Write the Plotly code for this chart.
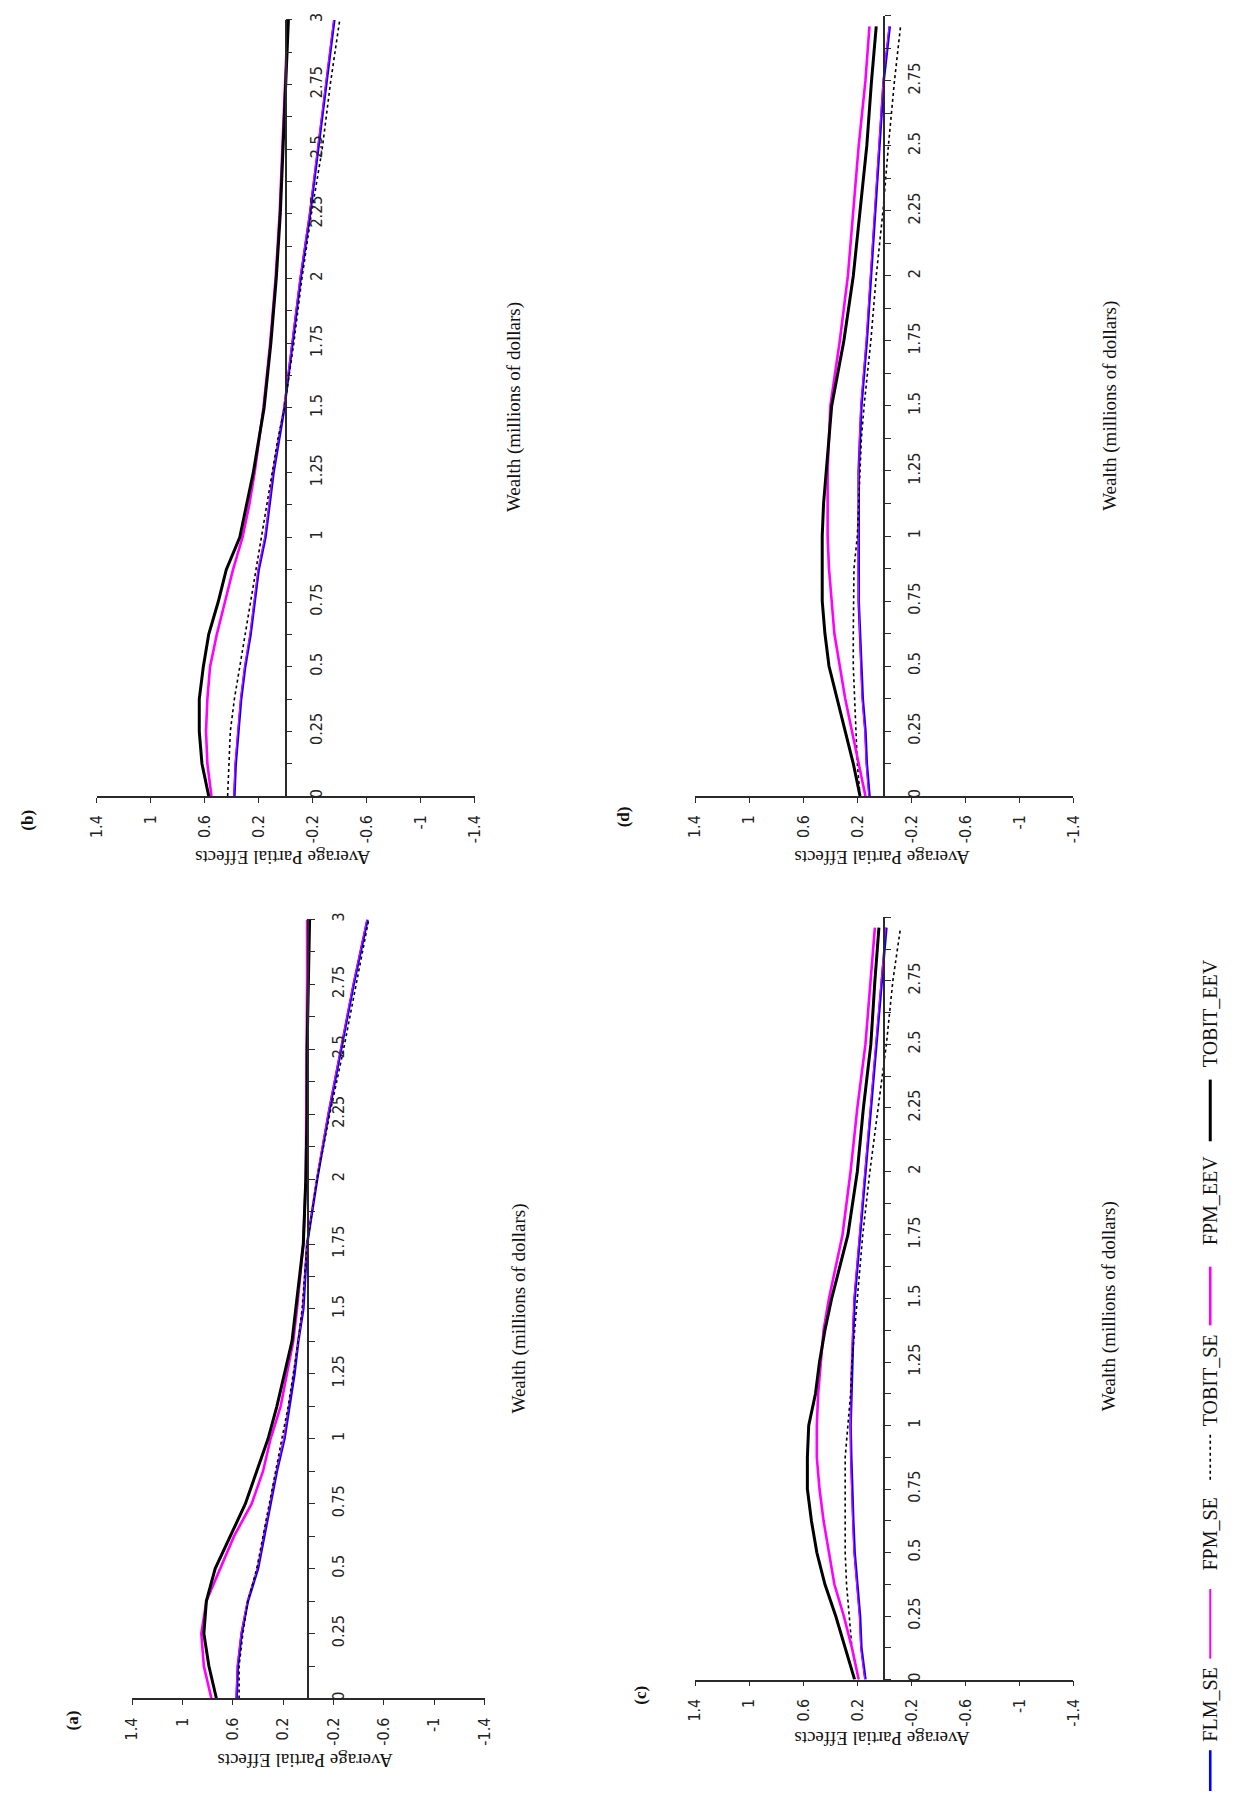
import plotly.graph_objects as go

# ---------------- data ----------------
WEALTH_AB = [0, 0.125, 0.25, 0.375, 0.5, 0.625, 0.75, 0.875, 1.0, 1.125, 1.25, 1.375, 1.5,
             1.75, 2.0, 2.25, 2.5, 2.75, 3.0]
WEALTH_CD = [0, 0.125, 0.25, 0.375, 0.5, 0.625, 0.75, 0.875, 1.0, 1.125, 1.25, 1.375, 1.5,
             1.75, 2.0, 2.25, 2.5, 2.75, 2.96]

SERIES = ["FLM_SE", "FPM_SE", "TOBIT_SE", "FPM_EEV", "TOBIT_EEV"]

# panel (a)
a_FLM_SE = [0.57, 0.56, 0.53, 0.48, 0.40, 0.35, 0.30, 0.25, 0.19, 0.15, 0.11, 0.08, 0.04,
            0.01, -0.07, -0.16, -0.26, -0.36, -0.47]
a_FPM_SE = [0.575, 0.565, 0.535, 0.485, 0.405, 0.355, 0.305, 0.255, 0.195, 0.155, 0.115, 0.08, 0.045,
            0.012, -0.065, -0.155, -0.255, -0.355, -0.465]
a_TOBIT_SE = [0.55, 0.55, 0.52, 0.48, 0.41, 0.36, 0.31, 0.26, 0.21, 0.16, 0.12, 0.08, 0.05,
              0.01, -0.07, -0.17, -0.28, -0.38, -0.48]
a_FPM_EEV = [0.77, 0.83, 0.85, 0.81, 0.70, 0.59, 0.45, 0.36, 0.30, 0.22, 0.17, 0.12, 0.09,
             0.04, 0.02, 0.015, 0.01, 0.01, 0.01]
a_TOBIT_EEV = [0.73, 0.79, 0.83, 0.81, 0.74, 0.62, 0.50, 0.41, 0.32, 0.25, 0.19, 0.13, 0.10,
               0.04, 0.02, 0.01, 0.01, 0.0, -0.01]

# panel (b)
b_FLM_SE = [0.38, 0.37, 0.35, 0.33, 0.30, 0.26, 0.23, 0.20, 0.15, 0.12, 0.09, 0.05, 0.01,
            -0.05, -0.11, -0.18, -0.24, -0.30, -0.36]
b_FPM_SE = [0.385, 0.375, 0.355, 0.335, 0.305, 0.265, 0.235, 0.205, 0.155, 0.125, 0.095, 0.055, 0.015,
            -0.045, -0.105, -0.175, -0.235, -0.295, -0.355]
b_TOBIT_SE = [0.43, 0.42, 0.41, 0.38, 0.34, 0.30, 0.26, 0.22, 0.18, 0.14, 0.10, 0.06, 0.01,
              -0.06, -0.12, -0.19, -0.27, -0.33, -0.40]
b_FPM_EEV = [0.55, 0.58, 0.59, 0.58, 0.56, 0.51, 0.45, 0.39, 0.32, 0.27, 0.23, 0.20, 0.165,
             0.115, 0.075, 0.045, 0.025, 0.005, -0.015]
b_TOBIT_EEV = [0.57, 0.62, 0.64, 0.64, 0.61, 0.57, 0.50, 0.44, 0.34, 0.29, 0.24, 0.20, 0.16,
               0.11, 0.07, 0.04, 0.02, 0.0, -0.02]

# panel (c)
c_FLM_SE = [0.14, 0.17, 0.18, 0.20, 0.22, 0.23, 0.24, 0.245, 0.25, 0.245, 0.24, 0.23, 0.22,
            0.18, 0.14, 0.10, 0.06, 0.02, -0.015]
c_FPM_SE = [0.145, 0.175, 0.185, 0.205, 0.225, 0.235, 0.245, 0.25, 0.25, 0.25, 0.245, 0.235, 0.225,
            0.185, 0.145, 0.105, 0.065, 0.025, -0.01]
c_TOBIT_SE = [0.19, 0.24, 0.26, 0.28, 0.29, 0.29, 0.29, 0.29, 0.27, 0.25, 0.24, 0.22, 0.20,
              0.16, 0.107, 0.046, -0.015, -0.063, -0.12]
c_FPM_EEV = [0.19, 0.24, 0.30, 0.37, 0.41, 0.45, 0.48, 0.50, 0.50, 0.49, 0.47, 0.45, 0.41,
             0.31, 0.25, 0.20, 0.14, 0.10, 0.07]
c_TOBIT_EEV = [0.22, 0.29, 0.36, 0.44, 0.50, 0.54, 0.57, 0.57, 0.56, 0.51, 0.48, 0.44, 0.39,
               0.27, 0.20, 0.155, 0.10, 0.07, 0.04]

# panel (d)
d_FLM_SE = [0.11, 0.13, 0.14, 0.16, 0.17, 0.18, 0.19, 0.19, 0.19, 0.19, 0.19, 0.18, 0.17,
            0.13, 0.10, 0.07, 0.04, 0.005, -0.04]
d_FPM_SE = [0.115, 0.135, 0.145, 0.165, 0.175, 0.185, 0.19, 0.195, 0.195, 0.195, 0.19, 0.185, 0.175,
            0.135, 0.105, 0.075, 0.045, 0.01, -0.035]
d_TOBIT_SE = [0.18, 0.20, 0.21, 0.22, 0.23, 0.23, 0.23, 0.225, 0.20, 0.19, 0.185, 0.17, 0.15,
              0.10, 0.06, 0.01, -0.03, -0.075, -0.12]
d_FPM_EEV = [0.14, 0.19, 0.24, 0.29, 0.33, 0.37, 0.39, 0.41, 0.42, 0.42, 0.42, 0.41, 0.40,
             0.33, 0.27, 0.23, 0.19, 0.14, 0.11]
d_TOBIT_EEV = [0.18, 0.23, 0.29, 0.35, 0.41, 0.44, 0.46, 0.46, 0.46, 0.45, 0.43, 0.41, 0.39,
               0.30, 0.23, 0.18, 0.13, 0.095, 0.06]

APE_TICKS = [1.4, 1.0, 0.6, 0.2, -0.2, -0.6, -1.0, -1.4]
APE_TICKTEXT = ["1.4", "1", "0.6", "0.2", "-0.2", "-0.6", "-1", "-1.4"]
WEALTH_TICKS = [0, 0.25, 0.5, 0.75, 1.0, 1.25, 1.5, 1.75, 2.0, 2.25, 2.5, 2.75, 3.0]
WEALTH_TICKTEXT = ["0", "0.25", "0.5", "0.75", "1", "1.25", "1.5", "1.75", "2", "2.25", "2.5", "2.75", "3"]
WEALTH_MINOR = [0.125, 0.375, 0.625, 0.875, 1.125, 1.375, 1.625, 1.875, 2.125, 2.375, 2.625, 2.875, 3.0]

PANEL_LABELS = ["(a)", "(b)", "(c)", "(d)"]
X_TITLE = "Average Partial Effects"
Y_TITLE = "Wealth (millions of dollars)"

# ---------------- layout helpers ----------------
FW, FH = 1235, 1796


def px(x):
    return x / FW


def py(y):
    return 1 - y / FH


STYLES = {
    "FLM_SE": dict(color="#0000FF", width=2.6),
    "FPM_SE": dict(color="#FF00FF", width=1.0),
    "TOBIT_SE": dict(color="#000000", width=1.6, dash="dot"),
    "FPM_EEV": dict(color="#FF00FF", width=2.6),
    "TOBIT_EEV": dict(color="#000000", width=3.0),
}

panels = [
    ("a", "", WEALTH_AB, [a_FLM_SE, a_FPM_SE, a_TOBIT_SE, a_FPM_EEV, a_TOBIT_EEV],
     (124, 482), (917, 1700), True),
    ("b", "2", WEALTH_AB, [b_FLM_SE, b_FPM_SE, b_TOBIT_SE, b_FPM_EEV, b_TOBIT_EEV],
     (88, 472), (13, 793), True),
    ("c", "3", WEALTH_CD, [c_FLM_SE, c_FPM_SE, c_TOBIT_SE, c_FPM_EEV, c_TOBIT_EEV],
     (696, 1080), (915, 1681), False),
    ("d", "4", WEALTH_CD, [d_FLM_SE, d_FPM_SE, d_TOBIT_SE, d_FPM_EEV, d_TOBIT_EEV],
     (696, 1080), (9, 793), False),
]

TICKFONT = dict(family="Liberation Sans Narrow, DejaVu Sans Condensed, Arial Narrow, sans-serif",
                size=16, color="#222222")
SERIF = "Liberation Serif, Times New Roman, serif"
AXCOL = "#2a2a2a"

fig = go.Figure()
layout = dict(
    width=FW, height=FH,
    margin=dict(l=0, r=0, t=0, b=0),
    paper_bgcolor="white", plot_bgcolor="white",
    showlegend=False,
)

for name, sfx, wealth, data, (x0, x1), (ytop, ybot), show3 in panels:
    xa = "x" + sfx
    ya = "y" + sfx
    for sname, vals in zip(SERIES, data):
        fig.add_trace(go.Scatter(x=vals, y=wealth, mode="lines", name=sname,
                                 line=STYLES[sname], xaxis=xa, yaxis=ya,
                                 hoverinfo="skip"))
    xdom = [px(x0), px(x1)]
    ydom = [py(ybot), py(ytop)]
    zero_pos = px((x0 + x1) / 2)
    if show3:
        tv, tt = WEALTH_TICKS, WEALTH_TICKTEXT
    else:
        tv, tt = WEALTH_TICKS[:-1], WEALTH_TICKTEXT[:-1]
    layout["xaxis" + sfx] = dict(
        domain=xdom, range=[1.4, -1.4], anchor=ya, side="bottom",
        tickmode="array", tickvals=APE_TICKS, ticktext=APE_TICKTEXT,
        ticks="outside", ticklen=5, tickwidth=1.3, tickcolor=AXCOL,
        tickangle=-90, tickfont=TICKFONT, ticklabelstandoff=6,
        showline=True, linecolor=AXCOL, linewidth=1.5,
        showgrid=False, zeroline=False, fixedrange=True,
    )
    layout["yaxis" + sfx] = dict(
        domain=ydom, range=[0, 3], anchor="free", position=zero_pos, side="right",
        tickmode="array", tickvals=tv, ticktext=tt,
        ticks="outside", ticklen=6, tickwidth=1.3, tickcolor=AXCOL,
        minor=dict(tickmode="array", tickvals=WEALTH_MINOR, ticks="outside",
                   ticklen=6, tickwidth=1.3, tickcolor=AXCOL, showgrid=False),
        tickangle=-90, tickfont=TICKFONT, ticklabelstandoff=10,
        showline=True, linecolor=AXCOL, linewidth=1.5,
        showgrid=False, zeroline=False, fixedrange=True,
    )

fig.update_layout(**layout)

# ---------------- annotations ----------------
ann = []
label_pos = {"(a)": (63, 1722), "(b)": (18, 817), "(c)": (640, 1697), "(d)": (624, 814)}
for lab in PANEL_LABELS:
    x, y = label_pos[lab]
    ann.append(dict(text="<b>" + lab + "</b>", x=px(x), y=py(y), xref="paper", yref="paper",
                    showarrow=False, textangle=-90, xanchor="center", yanchor="middle",
                    font=dict(family=SERIF, size=17, color="#111111")))
for (x, y) in [(299, 1763), (277, 855), (885, 1740), (885, 855)]:
    ann.append(dict(text=X_TITLE, x=px(x), y=py(y), xref="paper", yref="paper",
                    showarrow=False, textangle=180, xanchor="center", yanchor="middle",
                    font=dict(family=SERIF, size=19, color="#111111")))
for (x, y) in [(517, 1308), (512, 402), (1117, 1306), (1117, 401)]:
    ann.append(dict(text=Y_TITLE, x=px(x), y=py(y), xref="paper", yref="paper",
                    showarrow=False, textangle=-90, xanchor="center", yanchor="middle",
                    font=dict(family=SERIF, size=19, color="#111111")))

# legend (rotated, built from shapes + annotations)
LEG_X = 1219
legend_items = [
    ("FLM_SE", (1752, 1793), 1706),
    ("FPM_SE", (1590, 1660), 1535),
    ("TOBIT_SE", (1435, 1482), 1380),
    ("FPM_EEV", (1266, 1325), 1200),
    ("TOBIT_EEV", (1078, 1140), 1011),
]
shapes = []
for sname, (l0, l1), tc in legend_items:
    st = STYLES[sname]
    shapes.append(dict(type="line", xref="paper", yref="paper",
                       x0=px(LEG_X), x1=px(LEG_X), y0=py(l0), y1=py(l1),
                       line=dict(color=st["color"], width=st["width"] if sname != "FPM_SE" else 2,
                                 dash=st.get("dash", "solid"))))
    ann.append(dict(text=sname, x=px(LEG_X), y=py(tc), xref="paper", yref="paper",
                    showarrow=False, textangle=-90, xanchor="center", yanchor="middle",
                    font=dict(family=SERIF, size=20, color="#111111")))

fig.update_layout(annotations=ann, shapes=shapes)

fig.write_html("out.html",
               config={"displayModeBar": False},
               post_script="document.body.style.margin='0';document.body.style.overflow='hidden';")
